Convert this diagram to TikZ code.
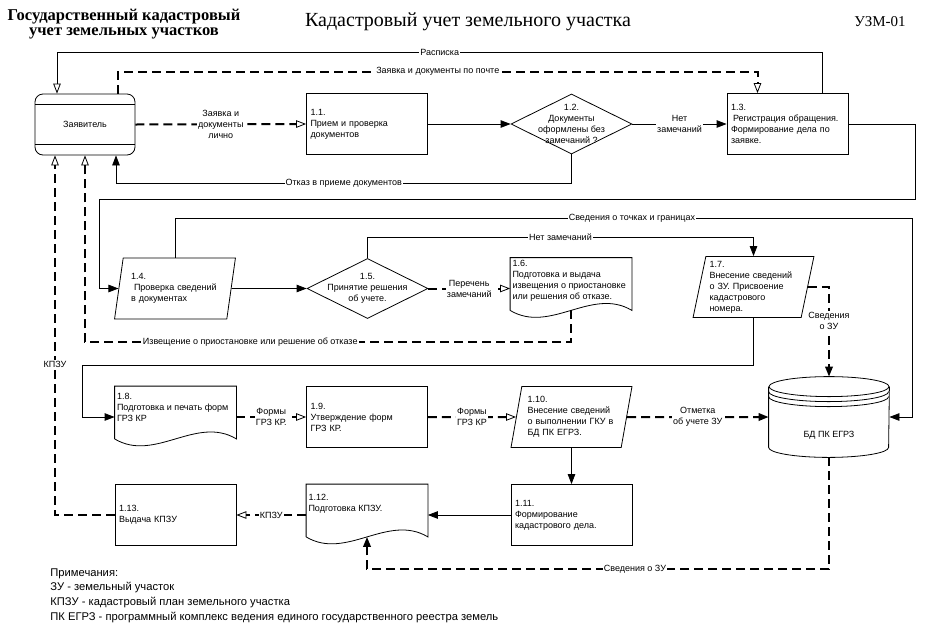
\documentclass[tikz,border=0pt]{standalone}
\usepackage{fontspec}
\setmainfont{Liberation Sans}
\newfontfamily\titlefont{Liberation Serif}
\usetikzlibrary{arrows.meta,shapes.geometric}

\begin{document}
\begin{tikzpicture}[x=1pt, y=-1pt, line width=0.8pt,
	every node/.style={font=\fontsize{9}{11}\selectfont},
	actor/.style={draw, rounded corners=8pt, minimum width=100pt, minimum height=61pt,
		path picture={
			\draw ([yshift=-10pt]path picture bounding box.north west) -- ([yshift=-10pt]path picture bounding box.north east);
			\draw ([yshift=11pt]path picture bounding box.south west) -- ([yshift=11pt]path picture bounding box.south east);}},
	proc/.style={draw, rectangle, minimum width=121pt, minimum height=61pt, text width=113pt, inner xsep=4pt, align=left},
	inout/.style={draw, trapezium, trapezium left angle=78, trapezium right angle=102, trapezium stretches=true,
		minimum width=121pt, minimum height=61pt, text width=88pt, inner xsep=2pt, inner ysep=3pt, align=left},
	decision/.style={draw, diamond, aspect=2, minimum width=121pt, minimum height=60pt, inner sep=0pt},
	doc/.style={rectangle, minimum width=121pt, minimum height=61pt},
	doctext/.style={anchor=north west, align=left, inner sep=2pt},
	dtext/.style={align=center},
	lbl/.style={fill=white, inner sep=1pt, align=center},
	flow/.style={-{Triangle[length=10pt,width=7.5pt]}},
	ret/.style={-{Triangle[open,length=10pt,width=7.5pt]}},
	post/.style={line width=2pt, dash pattern=on 9pt off 5pt, -{Triangle[open,line width=0.8pt,length=10pt,width=7.5pt]}},
	postf/.style={line width=2pt, dash pattern=on 9pt off 5pt, -{Triangle[length=10pt,width=7.5pt]}}]
	\useasboundingbox (0,0) rectangle (930,638);

	\node[font=\titlefont\bfseries\fontsize{16.5}{15}\selectfont, align=center] (head) at (124,24) {Государственный кадастровый\\учет земельных участков};
	\node[font=\titlefont\fontsize{20}{24}\selectfont] (title) at (468,22) {Кадастровый учет земельного участка};
	\node[font=\titlefont\fontsize{15}{18}\selectfont] (code) at (880,22) {УЗМ-01};

	\node[actor] (zav) at (85,124.5) {Заявитель};
	\node[proc] (s11) at (367,124) {1.1.\\Прием и проверка\\документов};
	\node[decision, label={[dtext]center:{1.2.\\Документы\\оформлены без\\замечаний ?}}] (s12) at (571.5,124) {};
	\node[proc] (s13) at (787.5,124) {1.3.\\\hspace*{2pt}Регистрация обращения.\\Формирование дела по\\заявке.};

	\node[inout] (s14) at (175,288.5) {1.4.\\\hspace*{3pt}Проверка сведений\\в документах};
	\node[decision, label={[dtext]center:{1.5.\\Принятие решения\\об учете.}}] (s15) at (367.5,288.5) {};
	\node[doc, label={[doctext]north west:{1.6.\\Подготовка и выдача\\извещения о приостановке\\или решения об отказе.}}] (s16) at (571,288.5) {};
	\node[inout] (s17) at (753.5,287) {1.7.\\Внесение сведений\\о ЗУ. Присвоение\\кадастрового\\номера.};

	\node[doc, label={[doctext, yshift=-5pt]north west:{1.8.\\Подготовка и печать форм\\ГРЗ КР}}] (s18) at (175.5,417) {};
	\node[proc] (s19) at (367,417) {1.9.\\Утверждение форм\\ГРЗ КР.};
	\node[inout] (s110) at (571.5,417) {1.10.\\Внесение сведений\\о выполнении ГКУ в\\БД ПК ЕГРЗ.};
	\node[minimum width=120pt, minimum height=80pt, label={[yshift=-18pt]center:БД ПК ЕГРЗ}] (bd) at (829,417) {};

	\node[proc] (s111) at (571.5,515) {1.11.\\Формирование\\кадастрового дела.};
	\node[doc, label={[doctext, yshift=-8pt]north west:{1.12.\\Подготовка КПЗУ.}}] (s112) at (367,515) {};
	\node[proc] (s113) at (175.5,515) {1.13.\\Выдача КПЗУ};

	\foreach \d in {s16,s18,s112}
		\draw ([yshift=9pt]\d.south west) -- (\d.north west) -- (\d.north east) -- ([yshift=9pt]\d.south east) .. controls +(-40,-24) and +(40,24) .. ([yshift=9pt]\d.south west);

	\draw ([yshift=-10pt]bd.north) ellipse [x radius=60pt, y radius=10pt];
	\draw ([yshift=-10pt]bd.north west) -- ([yshift=10pt]bd.south west) arc [start angle=180, end angle=360, x radius=60pt, y radius=10pt] -- ([yshift=-10pt]bd.north east);
	\foreach \k in {-15pt,-20pt}
		\draw ([yshift=\k]bd.north west) arc [start angle=180, end angle=360, x radius=60pt, y radius=10pt];

	\draw[post] (zav.east) -- (s11.west) node[midway, lbl] {Заявка и\\документы\\лично};
	\draw[flow] (s11.east) -- (s12.west);
	\draw[flow] (s12.east) -- (s13.west) node[midway, lbl] {Нет\\замечаний};
	\draw[ret] ([xshift=35pt]s13.north) -- ++(0,-41) -| ([xshift=-28pt]zav.north) node[pos=0.25, lbl] {Расписка};
	\draw[post] ([xshift=33pt]zav.north) -- ++(0,-22) -| ([xshift=-30pt]s13.north) node[pos=0.25, lbl] {Заявка и документы по почте};
	\draw[flow] (s12.south) -- ++(0,29) -| ([xshift=31pt]zav.south) node[pos=0.25, lbl] {Отказ в приеме документов};
	\draw[flow] (s13.east) -| ++(67,75) -- ++(-816,0) |- (s14.west);

	\draw[flow] (s14.east) -- (s15.west);
	\draw[post] (s15.east) -- (s16.west) node[midway, lbl] {Перечень\\замечаний};
	\draw[flow] (s15.north) -- ++(0,-21) -| (s17.north) node[pos=0.25, lbl] {Нет замечаний};
	\draw[flow] (s14.north) |- ++(737,-39) node[pos=0.81, lbl] {Сведения о точках и границах} |- (bd.east);
	\draw[postf] (s17.east) -| (bd.north) node[pos=0.69, lbl] {Сведения\\о ЗУ};
	\draw[post] ([yshift=9pt]s16.south) -- ++(0,32) -| (zav.south) node[pos=0.33, lbl] {Извещение о приостановке или решение об отказе};
	\draw[flow] (s17.south) |- ++(-671,47) |- (s18.west);

	\draw[post] (s18.east) -- (s19.west) node[midway, lbl] {Формы\\ГРЗ КР.};
	\draw[post] (s19.east) -- (s110.west) node[midway, lbl] {Формы\\ГРЗ КР};
	\draw[postf] (s110.east) -- (bd.west) node[midway, lbl] {Отметка\\об учете ЗУ};
	\draw[flow] (s110.south) -- (s111.north);
	\draw[flow] (s111.west) -- (s112.east);
	\draw[post] (s112.west) -- (s113.east) node[midway, lbl] {КПЗУ};
	\draw[post] (s113.west) -| ([xshift=-30pt]zav.south) node[pos=0.71, lbl] {КПЗУ};
	\draw[postf] (bd.south) -- ++(0,112) -| ([yshift=9pt]s112.south) node[pos=0.21, lbl] {Сведения о ЗУ};

	\node[anchor=north west, align=left, inner sep=0pt, font=\fontsize{11.2}{14.7}\selectfont] (notes) at (50,568) {Примечания:\\ЗУ - земельный участок\\КПЗУ - кадастровый план земельного участка\\ПК ЕГРЗ - программный комплекс ведения единого государственного реестра земель};
\end{tikzpicture}
\end{document}
